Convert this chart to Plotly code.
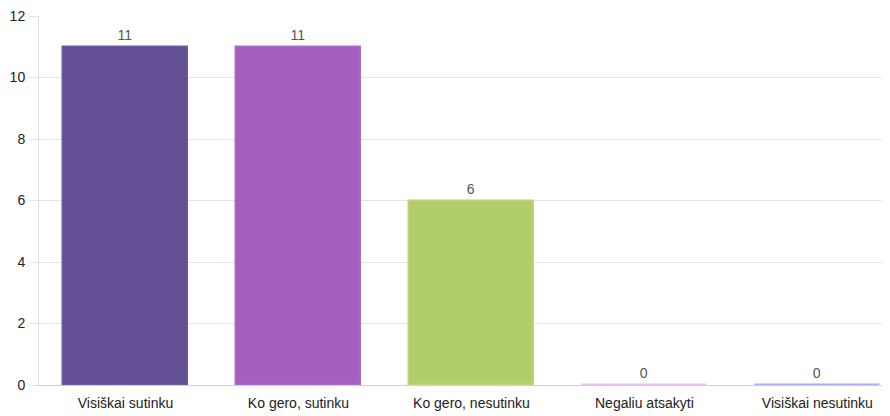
import plotly.graph_objects as go

categories = ["Visiškai sutinku", "Ko gero, sutinku", "Ko gero, nesutinku", "Negaliu atsakyti", "Visiškai nesutinku"]
values = [11, 11, 6, 0, 0]
colors = ["rgb(99,79,150)", "rgb(162,95,190)", "rgb(178,206,106)", "rgb(226,190,240)", "rgb(170,178,240)"]
line_colors = ["rgb(110,90,160)", "rgb(172,110,200)", "rgb(188,214,120)", "rgb(230,195,242)", "rgb(170,178,240)"]
y_ticks = [0, 2, 4, 6, 8, 10, 12]

fig = go.Figure()
fig.add_trace(go.Bar(
    x=categories, y=values,
    width=0.72,
    marker=dict(color=colors, line=dict(color=line_colors, width=1.5)),
    text=[str(v) for v in values],
    textposition="outside",
    constraintext="none",
    cliponaxis=False,
    textfont=dict(family="Liberation Sans, Arial", size=14, color="#555"),
    hoverinfo="skip",
))

fig.update_layout(
    width=882, height=408,
    margin=dict(l=31, r=0, t=8, b=31),
    paper_bgcolor="white", plot_bgcolor="white",
    showlegend=False,
    font=dict(family="Liberation Sans, Arial", size=14, color="#222"),
    bargap=0,
)
fig.update_xaxes(
    range=[-0.5, 4.42],
    showgrid=False,
    showline=True, linecolor="#d0d0d0", linewidth=1,
    ticks="", tickfont=dict(size=14, color="#222"),
    ticklabelstandoff=5,
)
fig.update_yaxes(
    range=[0, 12], tickvals=y_ticks,
    showgrid=True, gridcolor="#e6e6e6", gridwidth=1,
    showline=True, linecolor="#e0e0e0", linewidth=1,
    ticks="outside", ticklen=9, tickcolor="#e6e6e6",
    tickfont=dict(size=14, color="#222"),
    ticklabelstandoff=1,
    ticklabeloverflow="allow",
    zeroline=False,
)

fig.write_html("out.html")
